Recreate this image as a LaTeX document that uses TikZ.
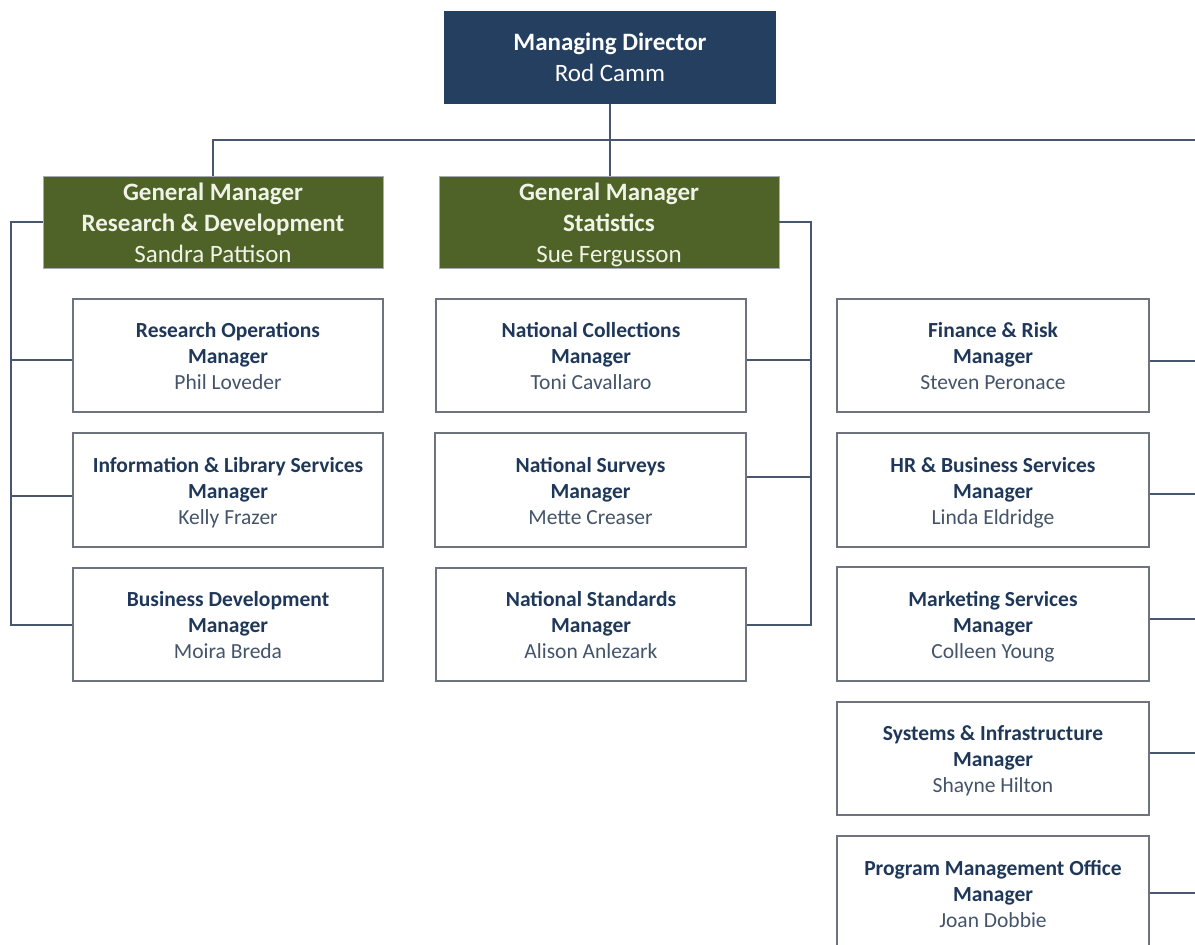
\documentclass[tikz,border=0pt]{standalone}
\usepackage{fontspec}
\setmainfont{Carlito}
\usetikzlibrary{calc}
\definecolor{navy}{RGB}{36,63,96}
\definecolor{olive}{RGB}{79,98,40}
\definecolor{cream}{RGB}{240,244,230}
\definecolor{txtdark}{RGB}{31,56,90}
\definecolor{txtname}{RGB}{68,84,106}
\definecolor{conn}{RGB}{72,86,110}
\definecolor{bord}{RGB}{110,115,125}
\tikzset{
  topbox/.style={rectangle, fill=navy, draw=none, inner sep=0pt, text=white, align=center,
    font=\fontsize{25}{31}\selectfont, minimum width=332pt, minimum height=93pt},
  gmbox/.style={rectangle, fill=olive, draw=bord!60, line width=0.6pt, inner sep=0pt, text=cream, align=center,
    font=\fontsize{25}{31}\selectfont, minimum width=340pt, minimum height=92pt},
  mgrbox/.style={rectangle, fill=white, draw=bord, line width=1.3pt, inner sep=0pt, align=center,
    font=\fontsize{21.5}{26}\selectfont, text=txtdark, minimum width=310pt, minimum height=113pt},
  wide/.style={minimum width=312pt},
  link/.style={draw=conn, line width=1.3pt},
}
\newcommand{\ttl}[1]{\strut\textbf{#1}}
\newcommand{\hd}[2][6pt]{\rule{0pt}{\dimexpr0.7\baselineskip+#1\relax}\textbf{#2}}
\newcommand{\gfirst}[1]{\rule{0pt}{24.5pt}\textbf{#1}}
\newcommand{\glast}[1]{\raisebox{0pt}[\height][0pt]{#1}\rule[-5pt]{0pt}{5pt}}
\newcommand{\nm}[1]{\textcolor{txtname}{#1}\strut}
\begin{document}
\begin{tikzpicture}[x=1pt,y=-1pt]
\useasboundingbox (0,0) rectangle (1195,945);
\fill[white] (0,0) rectangle (1195,945);

\node[topbox] (md) at (610,57.5) {\hd[4pt]{Managing Director}\\Rod Camm\strut};
\node[gmbox] (gmrd) at (213,222) {\gfirst{General Manager}\\\textbf{Research \& Development}\\\glast{Sandra Pattison}};
\node[gmbox] (gmst) at (609,222) {\gfirst{General Manager}\\\textbf{Statistics}\\\glast{Sue Fergusson}};

% R&D children
\node[mgrbox] (ro) at (228,355.5) {\hd{Research Operations}\\\ttl{Manager}\\\nm{Phil Loveder}};
\node[mgrbox, minimum height=114pt] (il) at (228,490) {\hd{Information \& Library Services}\\\ttl{Manager}\\\nm{Kelly Frazer}};
\node[mgrbox] (bd) at (228,624.5) {\hd{Business Development}\\\ttl{Manager}\\\nm{Moira Breda}};

% Statistics children
\node[mgrbox] (nc) at (591,355.5) {\hd{National Collections}\\\ttl{Manager}\\\nm{Toni Cavallaro}};
\node[mgrbox, minimum height=114pt, minimum width=311pt] (ns) at (590.5,490) {\hd{National Surveys}\\\ttl{Manager}\\\nm{Mette Creaser}};
\node[mgrbox] (nst) at (591,624.5) {\hd{National Standards}\\\ttl{Manager}\\\nm{Alison Anlezark}};

% Right column
\node[mgrbox, wide] (fr) at (993,355.5) {\hd{Finance \& Risk}\\\ttl{Manager}\\\nm{Steven Peronace}};
\node[mgrbox, wide, minimum height=114pt] (hr) at (993,490) {\hd{HR \& Business Services}\\\ttl{Manager}\\\nm{Linda Eldridge}};
\node[mgrbox, wide, minimum height=114pt] (ms) at (993,624) {\hd{Marketing Services}\\\ttl{Manager}\\\nm{Colleen Young}};
\node[mgrbox, wide] (si) at (993,758.5) {\hd{Systems \& Infrastructure}\\\ttl{Manager}\\\nm{Shayne Hilton}};
\node[mgrbox, wide, minimum height=114pt] (pm) at (993,893) {\hd{Program Management Office}\\\ttl{Manager}\\\nm{Joan Dobbie}};

% free ends at right edge
\coordinate (top-r) at (1195,140);
\coordinate (fr-r) at (1195,361);
\coordinate (hr-r) at (1195,494);
\coordinate (ms-r) at (1195,619);
\coordinate (si-r) at (1195,753);
\coordinate (pm-r) at (1195,893);
\coordinate (rdbus) at (11,222);
\coordinate (stbus) at (811,222);

% top connectors
\draw[link] (md.south) -- (md.south |- top-r);
\draw[link] (md.south |- top-r) -- (gmst.north -| md.south);
\draw[link] (gmrd.north) |- (top-r);

% R&D bracket
\draw[link] (gmrd.west) -- (rdbus) |- ([yshift=-0.5pt]bd.west);
\draw[link] ([yshift=-4.5pt]ro.west) -- ([yshift=-4.5pt]ro.west -| rdbus);
\draw[link] ([yshift=-6pt]il.west) -- ([yshift=-6pt]il.west -| rdbus);

% Statistics bracket
\draw[link] (gmst.east) -- (stbus) |- ([yshift=-0.5pt]nst.east);
\draw[link] ([yshift=-4.5pt]nc.east) -- ([yshift=-4.5pt]nc.east -| stbus);
\draw[link] ([yshift=13pt]ns.east) -- ([yshift=13pt]ns.east -| stbus);

% right column connectors
\draw[link] (fr.east |- fr-r) -- (fr-r);
\draw[link] (hr.east |- hr-r) -- (hr-r);
\draw[link] (ms.east |- ms-r) -- (ms-r);
\draw[link] (si.east |- si-r) -- (si-r);
\draw[link] (pm.east) -- (pm-r);
\end{tikzpicture}
\end{document}
